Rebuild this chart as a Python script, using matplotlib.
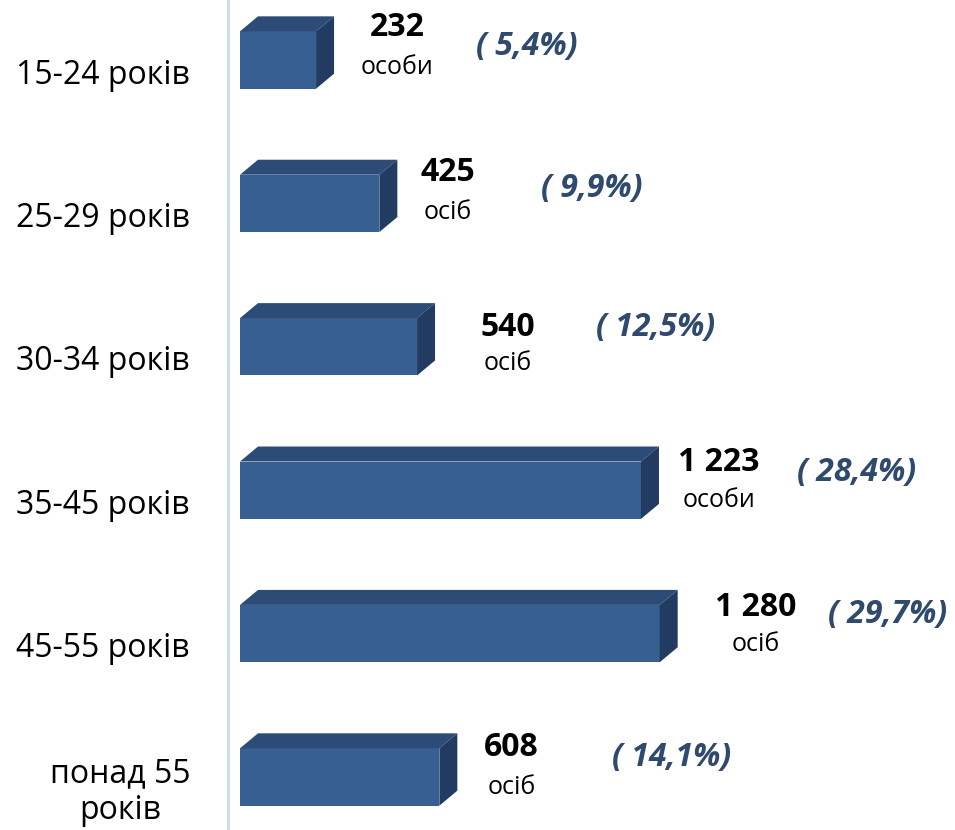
import matplotlib.pyplot as plt
from matplotlib.patches import Polygon

# data
age_groups = ['15-24 років', '25-29 років', '30-34 років', '35-45 років', '45-55 років', 'понад 55\nроків']
persons = [232, 425, 540, 1223, 1280, 608]
value_labels = ['232', '425', '540', '1 223', '1 280', '608']
unit_labels = ['особи', 'осіб', 'осіб', 'особи', 'осіб', 'осіб']
share_labels = ['( 5,4%)', '( 9,9%)', '( 12,5%)', '( 28,4%)', '( 29,7%)', '( 14,1%)']

plt.rcParams['font.family'] = ['Open Sans', 'DejaVu Sans']

W, H = 955, 830
fig = plt.figure(figsize=(W / 100, H / 100), dpi=100, facecolor='white')
ax = fig.add_axes([0, 0, 1, 1])
ax.set_axis_off()

# pixel-ish mapping: x=0 at px 240, ~3.05 units per px
k = 3.05
ax.set_xlim(-240 * k, (W - 240) * k)
step = 143.4
ax.set_ylim((H - 60) / step, -60 / step)

bar_h = 0.40
dx = 18 * k          # depth, to the right
dy = 15 / step       # depth, upwards

front_c = '#375F91'
top_c = '#2C4C77'
side_c = '#213C60'
pct_c = '#2F4A6D'

# label offsets (px): number x gap from bar end, number/unit/pct y from bar centre, pct x centre
num_dx = [63, 50, 73, 60, 78, 54]
num_dy = [-32, -31, -19, -28, -26, -29]
unit_dy = [8, 9, 17, 10, 11, 10]
pct_x = [527, 592, 656, 857, 888, 672]
pct_dy = [-13, -15, -19, -18, -19, -20]

# axis line
ax.plot([-12 * k, -12 * k], [ax.get_ylim()[0], ax.get_ylim()[1]], color='#CAD9EE', lw=2, zorder=1)

for i, v in enumerate(persons):
    y0 = i - bar_h / 2
    y1 = i + bar_h / 2
    ax.add_patch(Polygon([(0, y0), (v, y0), (v, y1), (0, y1)], closed=True,
                         facecolor=front_c, edgecolor='none', zorder=3))
    ax.add_patch(Polygon([(0, y0), (dx, y0 - dy), (v + dx, y0 - dy), (v, y0)], closed=True,
                         facecolor=top_c, edgecolor='none', zorder=3))
    ax.add_patch(Polygon([(v, y0), (v + dx, y0 - dy), (v + dx, y1 - dy), (v, y1)], closed=True,
                         facecolor=side_c, edgecolor='none', zorder=3))

    # category label
    ax.text(190 * k - 240 * k, i + 15 / step, age_groups[i], ha='right', va='center',
            multialignment='center', fontsize=23, color='black', linespacing=1.15)

    xe = v + dx + num_dx[i] * k
    ax.text(xe, i + num_dy[i] / step, value_labels[i], ha='center', va='center',
            fontsize=23, fontweight='bold', color='black')
    ax.text(xe, i + unit_dy[i] / step, unit_labels[i], ha='center', va='center',
            fontsize=18, color='black')
    ax.text((pct_x[i] - 240) * k, i + pct_dy[i] / step, share_labels[i], ha='center', va='center',
            fontsize=23, fontweight='bold', style='italic', color=pct_c)

fig.savefig('out.png', dpi=100, facecolor='white')
